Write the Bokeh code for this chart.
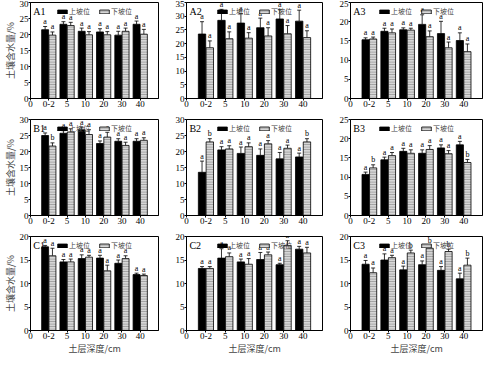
from bokeh.plotting import figure
from bokeh.models import (Range1d, FixedTicker, Whisker, TeeHead, ColumnDataSource,
                          Legend, LegendItem, Label)
from bokeh.layouts import gridplot
from bokeh.embed import file_html
from bokeh.resources import INLINE
from bokeh.core.properties import value

# ---------------- data ----------------
depths = ["0-2", "5", "10", "20", "30", "40"]
series_names = ["上坡位", "下坡位"]
panel_names = ["A1", "A2", "A3", "B1", "B2", "B3", "C1", "C2", "C3"]
y_max = [30, 35, 25, 30, 30, 25, 20, 20, 20]

A1_up = [21.5, 23.2, 21.0, 20.8, 19.8, 23.2]
A1_up_err = [1.0, 0.8, 1.0, 1.0, 1.2, 1.0]
A1_up_sig = ["a", "a", "a", "a", "a", "a"]
A1_down = [19.8, 22.8, 19.9, 19.9, 21.0, 20.1]
A1_down_err = [1.0, 1.0, 1.0, 1.0, 1.0, 1.5]
A1_down_sig = ["a", "a", "a", "a", "a", "a"]

A2_up = [23.5, 28.5, 27.5, 25.8, 29.0, 28.2]
A2_up_err = [4.5, 4.0, 3.5, 3.5, 3.5, 4.0]
A2_up_sig = ["a", "a", "a", "a", "a", "a"]
A2_down = [18.5, 21.8, 22.0, 22.8, 23.6, 22.2]
A2_down_err = [2.5, 2.5, 2.0, 3.0, 3.0, 2.5]
A2_down_sig = ["a", "a", "a", "a", "a", "a"]

A3_up = [15.3, 17.5, 17.9, 19.3, 16.9, 15.1]
A3_up_err = [0.5, 0.8, 0.5, 2.5, 3.2, 2.0]
A3_up_sig = ["a", "a", "a", "a", "a", "a"]
A3_down = [15.5, 17.1, 17.8, 16.1, 13.2, 12.2]
A3_down_err = [0.5, 1.0, 0.5, 1.5, 1.5, 2.0]
A3_down_sig = ["a", "a", "a", "a", "a", "a"]

B1_up = [25.0, 25.7, 26.8, 22.5, 23.2, 23.2]
B1_up_err = [0.8, 0.8, 0.8, 0.8, 0.8, 0.8]
B1_up_sig = ["a", "a", "a", "a", "a", "a"]
B1_down = [21.7, 26.1, 25.3, 24.5, 21.9, 23.5]
B1_down_err = [1.0, 1.0, 1.5, 1.5, 1.0, 0.8]
B1_down_sig = ["b", "a", "a", "a", "a", "a"]

B2_up = [13.5, 20.5, 19.4, 18.8, 17.7, 18.3]
B2_up_err = [3.5, 1.0, 2.0, 2.0, 2.0, 1.2]
B2_up_sig = ["a", "a", "a", "a", "a", "a"]
B2_down = [23.0, 20.8, 21.5, 22.4, 21.0, 23.0]
B2_down_err = [1.0, 1.0, 1.2, 1.0, 1.0, 1.0]
B2_down_sig = ["b", "a", "a", "a", "a", "b"]

B3_up = [10.7, 14.5, 16.7, 16.2, 17.6, 18.4]
B3_up_err = [0.6, 0.7, 0.8, 0.9, 0.8, 0.9]
B3_up_sig = ["a", "a", "a", "a", "a", "a"]
B3_down = [12.4, 15.6, 16.2, 17.2, 16.1, 13.8]
B3_down_err = [0.8, 0.8, 0.9, 1.0, 0.8, 0.8]
B3_down_sig = ["b", "a", "a", "a", "a", "b"]

C1_up = [17.8, 14.6, 15.3, 15.4, 14.3, 11.9]
C1_up_err = [0.3, 0.5, 0.8, 0.6, 0.7, 0.3]
C1_up_sig = ["a", "a", "a", "a", "a", "a"]
C1_down = [15.9, 14.6, 15.6, 12.7, 15.3, 11.7]
C1_down_err = [1.6, 0.6, 0.4, 1.2, 0.6, 0.3]
C1_down_sig = ["a", "a", "a", "a", "a", "a"]

C2_up = [13.2, 15.4, 14.6, 15.1, 14.0, 17.3]
C2_up_err = [0.4, 2.0, 0.6, 1.5, 0.3, 0.6]
C2_up_sig = ["a", "a", "a", "a", "a", "a"]
C2_down = [13.2, 15.7, 14.1, 16.1, 18.1, 16.5]
C2_down_err = [0.4, 0.8, 1.2, 0.6, 1.0, 1.2]
C2_down_sig = ["a", "a", "a", "a", "b", "a"]

C3_up = [14.1, 15.0, 12.9, 14.0, 12.8, 11.0]
C3_up_err = [0.8, 1.3, 0.8, 0.8, 0.8, 1.2]
C3_up_sig = ["a", "a", "a", "a", "a", "a"]
C3_down = [12.3, 15.5, 16.5, 17.5, 16.8, 13.9]
C3_down_err = [1.0, 0.5, 0.6, 0.5, 0.5, 1.5]
C3_down_sig = ["a", "a", "b", "b", "b", "b"]

panels = {
    "A1": (A1_up, A1_up_err, A1_up_sig, A1_down, A1_down_err, A1_down_sig),
    "A2": (A2_up, A2_up_err, A2_up_sig, A2_down, A2_down_err, A2_down_sig),
    "A3": (A3_up, A3_up_err, A3_up_sig, A3_down, A3_down_err, A3_down_sig),
    "B1": (B1_up, B1_up_err, B1_up_sig, B1_down, B1_down_err, B1_down_sig),
    "B2": (B2_up, B2_up_err, B2_up_sig, B2_down, B2_down_err, B2_down_sig),
    "B3": (B3_up, B3_up_err, B3_up_sig, B3_down, B3_down_err, B3_down_sig),
    "C1": (C1_up, C1_up_err, C1_up_sig, C1_down, C1_down_err, C1_down_sig),
    "C2": (C2_up, C2_up_err, C2_up_sig, C2_down, C2_down_err, C2_down_sig),
    "C3": (C3_up, C3_up_err, C3_up_sig, C3_down, C3_down_err, C3_down_sig),
}

y_label = "土壤含水量/%"
x_label = "土层深度/cm"

# ---------------- layout / style ----------------
SERIF = "Liberation Serif"
CJK = "Noto Sans CJK SC"
col_w = [166, 160, 158]
row_h = [115, 117, 125]
border_left = [26, 20, 24]
border_right = [8, 4, 2]
border_top = [2, 4, 4]
border_bottom = [17, 17, 27]
bar_w = 0.38
off = 0.2


def make_panel(idx):
    r, c = divmod(idx, 3)
    name = panel_names[idx]
    up, up_err, up_sig, dn, dn_err, dn_sig = panels[name]
    xs = [i + 1 for i in range(len(depths))]
    p = figure(width=col_w[c], height=row_h[r], output_backend="svg", toolbar_location=None,
               x_range=Range1d(0, 7), y_range=Range1d(0, y_max[idx]),
               min_border_left=border_left[c], min_border_right=border_right[c],
               min_border_top=border_top[r], min_border_bottom=border_bottom[r])
    p.grid.visible = False
    p.outline_line_color = "black"
    p.outline_line_width = 1
    p.background_fill_color = "white"
    p.border_fill_color = "white"

    s_up = ColumnDataSource(dict(x=[x - off for x in xs], top=up,
                                 upper=[t + e for t, e in zip(up, up_err)], sig=up_sig))
    s_dn = ColumnDataSource(dict(x=[x + off for x in xs], top=dn,
                                 upper=[t + e for t, e in zip(dn, dn_err)], sig=dn_sig))

    r_up = p.vbar(x="x", top="top", width=bar_w, source=s_up, fill_color="black",
                  line_color="black", line_width=0.8)
    r_dn = p.vbar(x="x", top="top", width=bar_w, source=s_dn, fill_color="#d6d6d6",
                  line_color="black", line_width=0.8, hatch_pattern="horizontal_line",
                  hatch_color="#8c8c8c", hatch_scale=2.5, hatch_weight=0.8)
    for s in (s_up, s_dn):
        w = Whisker(source=s, base="x", lower="top", upper="upper", line_color="black",
                    line_width=0.8, upper_head=TeeHead(size=4, line_color="black", line_width=0.8),
                    lower_head=None)
        p.add_layout(w)
        p.text(x="x", y="upper", text="sig", source=s, text_align="center",
               text_baseline="bottom", y_offset=-0.5, text_font=value(SERIF),
               text_font_size="8px", text_color="#000000")

    legend = Legend(items=[LegendItem(label=series_names[0], renderers=[r_up]),
                           LegendItem(label=series_names[1], renderers=[r_dn])],
                    location="top_center", orientation="horizontal",
                    label_text_font=CJK, label_text_font_size="7px",
                    glyph_width=12, glyph_height=5, label_standoff=1, spacing=8,
                    padding=0, margin=4, label_height=8,
                    background_fill_alpha=0, border_line_alpha=0)
    p.add_layout(legend)

    p.add_layout(Label(x=0.15, y=y_max[idx], y_offset=-3, text=name, text_baseline="top",
                       text_font=SERIF, text_font_size="10px", text_color="black"))

    p.xaxis.ticker = FixedTicker(ticks=[0] + xs)
    p.xaxis.major_label_overrides = {0: "0", **{x: d for x, d in zip(xs, depths)}}
    p.yaxis.ticker = FixedTicker(ticks=list(range(0, y_max[idx] + 1, 5)))
    for ax in (p.xaxis, p.yaxis):
        ax.major_label_text_font = SERIF
        ax.major_label_text_font_size = "9px"
        ax.major_label_standoff = 0
        ax.major_tick_out = 2
        ax.major_tick_in = 0
        ax.minor_tick_out = 0
        ax.minor_tick_in = 0
        ax.axis_line_color = "black"
        ax.major_tick_line_color = "black"
        ax.major_label_text_color = "black"
        ax.axis_label_text_font = CJK
        ax.axis_label_text_font_size = "9px"
        ax.axis_label_text_font_style = "normal"
        ax.axis_label_standoff = 0
    if c == 0:
        p.yaxis.axis_label = y_label
    if r == 2:
        p.xaxis.axis_label = x_label
    return p


figs = [make_panel(i) for i in range(9)]
grid = gridplot([figs[0:3], figs[3:6], figs[6:9]], toolbar_location=None)

open("out.html", "w").write(file_html(grid, INLINE))
